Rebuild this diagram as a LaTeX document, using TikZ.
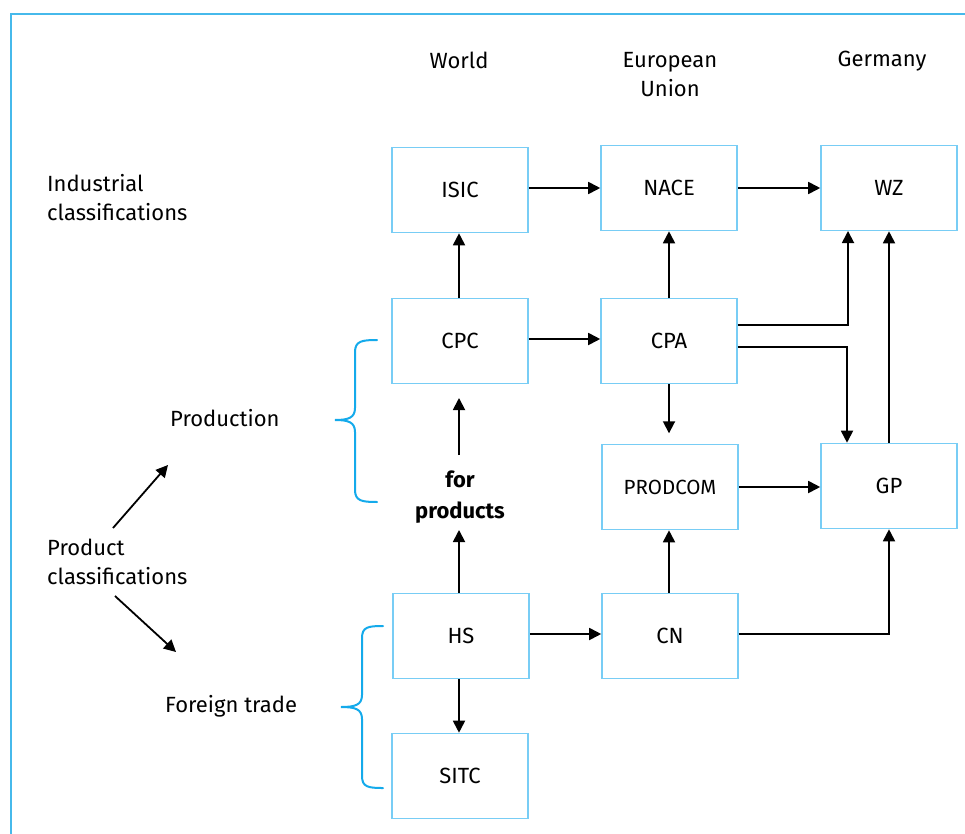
\documentclass[tikz,border=0pt]{standalone}
\usepackage{fontspec}
\setmainfont{Fira Sans}
\usetikzlibrary{arrows.meta}
\definecolor{framecol}{RGB}{70,185,235}
\definecolor{boxcol}{RGB}{120,205,245}
\definecolor{bracecol}{RGB}{20,170,235}
\tikzset{
  cls/.style={draw=boxcol, line width=1.6pt, minimum width=136pt, minimum height=85pt, inner sep=0pt, font=\fontsize{22}{26}\selectfont},
  lbl/.style={font=\fontsize{22}{29}\selectfont, inner sep=0pt},
  conn/.style={line width=1.8pt, -{Triangle[length=12pt,width=12pt]}},
  curly/.style={draw=bracecol, line width=2pt, line cap=round}
}
\begin{document}
\begin{tikzpicture}[x=1pt,y=-1pt]
\useasboundingbox (0,0) rectangle (965,834);
% frame
\draw[framecol, line width=2pt] (11,834) -- (11,14) -- (965,14);

% column headers
\node[lbl] (hworld) at (459,60) {World};
\node[lbl, align=center] (heu) at (670,75) {European\\Union};
\node[lbl] (hger) at (882,61) {Germany};

% row labels
\node[lbl, align=left, anchor=west] (lind) at (47,198) {Industrial\\classifications};
\node[lbl, anchor=west] (lprod) at (170,418) {Production};
\node[lbl, align=left, anchor=west] (lpc) at (47,562) {Product\\classifications};
\node[lbl, anchor=west] (lft) at (165,706) {Foreign trade};

% classification boxes
\node[cls] (isic) at (460,190) {ISIC};
\node[cls] (nace) at (669,188) {NACE};
\node[cls] (wz) at (889,188) {WZ};
\node[cls] (cpc) at (460,341) {CPC};
\node[cls] (cpa) at (669,341) {CPA};
\node[cls, font=\fontsize{20.5}{24}\selectfont] (prodcom) at (670,487) {PRODCOM};
\node[cls] (gp) at (889,486) {GP};
\node[cls] (hs) at (461,636) {HS};
\node[cls] (cn) at (670,636) {CN};
\node[cls] (sitc) at (460,776) {SITC};

\node[lbl, font=\bfseries\fontsize{22}{31}\selectfont, align=center] (forprod) at (460,497) {for\\products};

% helper points
\coordinate (fpbot) at (459,455);
\coordinate (fptop) at (459,398);
\coordinate (diaga) at (113,528);
\coordinate (diagb) at (168,465);
\coordinate (diagc) at (115,596);
\coordinate (diagd) at (176,652);

% connectors
\draw[conn] (isic.east |- nace.east) -- (nace.west);
\draw[conn] (nace.east) -- (wz.west);
\draw[conn] (cpc.north -| 459,0) -- (isic.south -| 459,0);
\draw[conn] (cpa.north) -- (nace.south);
\draw[conn] (cpc.east |- 0,339) -- (cpa.west |- 0,339);
\draw[conn] (cpa.south) -- ++(0,49);
\draw[conn] (cpa.east |- 0,325) -| (848,231);
\draw[conn] (cpa.east |- 0,347) -| (gp.north -| 847,0);
\draw[conn] (gp.north) -- (wz.south);
\draw[conn] (prodcom.east) -- (gp.west |- prodcom.east);
\draw[conn] (hs.east |- 0,634) -- (cn.west |- 0,634);
\draw[conn] (cn.east |- 0,634) -| (gp.south);
\draw[conn] (cn.north -| 669,0) -- (prodcom.south -| 669,0);
\draw[conn] (hs.south -| 459,0) -- (sitc.north -| 459,0);
\draw[conn] (hs.north -| 459,0) -- (459,530);
\draw[conn] (fpbot) -- (fptop);
\draw[conn] (diaga) -- (diagb);
\draw[conn] (diagc) -- (diagd);

% braces
\draw[curly] (377,340) .. controls (362,340) and (355,341) .. (355,352)
  -- (355,408) .. controls (355,418) and (348,420) .. (335,420)
  .. controls (348,420) and (355,422) .. (355,432)
  -- (355,490) .. controls (355,501) and (362,502) .. (377,502);
\draw[curly] (383,626) .. controls (368,626) and (362,627) .. (362,638)
  -- (362,695) .. controls (362,705) and (355,707) .. (341,707)
  .. controls (355,707) and (362,709) .. (362,719)
  -- (362,776) .. controls (362,787) and (368,788) .. (383,788);
\end{tikzpicture}
\end{document}
